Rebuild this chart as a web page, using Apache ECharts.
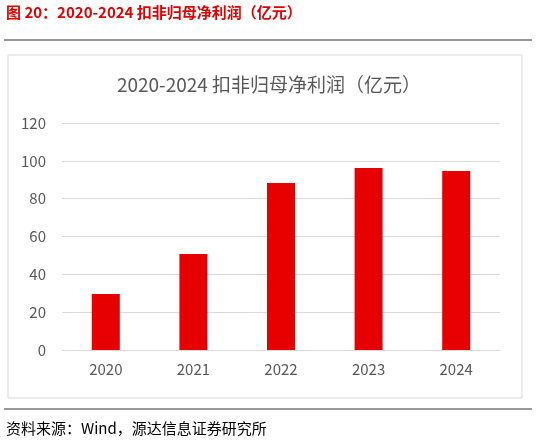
<!DOCTYPE html>
<html>
<head>
<meta charset="utf-8">
<script src="https://cdn.jsdelivr.net/npm/echarts@6/dist/echarts.min.js"></script>
<style>html,body{margin:0;padding:0;background:#fff}#main{width:538px;height:446px}</style>
</head>
<body>
<div id="main"></div>
<script>
const years = ['2020', '2021', '2022', '2023', '2024'];
const profit = [29.6, 50.7, 88.3, 96.2, 94.6];

const myChart = echarts.init(document.getElementById('main'));
const font = '"Noto Sans CJK SC", "Noto Sans", sans-serif';

const option = {
  animation: false,
  textStyle: { fontFamily: font },
  title: {
    text: '2020-2024 扣非归母净利润（亿元）',
    left: 'center',
    top: 70,
    textStyle: { fontSize: 19, fontWeight: 'normal', color: '#595959', fontFamily: font },
  },
  graphic: [
    { type: 'text', left: 6, top: 5, style: { text: '图 20：2020-2024 扣非归母净利润（亿元）', fill: '#e00000', font: 'bold 15px ' + font } },
    { type: 'line', shape: { x1: 4, y1: 40, x2: 532, y2: 40 }, style: { stroke: '#333', lineWidth: 1 } },
    { type: 'rect', shape: { x: 8, y: 55, width: 514, height: 343 }, style: { fill: 'none', stroke: '#d9d9d9', lineWidth: 1 } },
    { type: 'line', shape: { x1: 4, y1: 409, x2: 532, y2: 409 }, style: { stroke: '#333', lineWidth: 1 } },
    { type: 'text', left: 6, top: 421, style: { text: '资料来源：Wind，源达信息证券研究所', fill: '#000', font: '15px ' + font } },
  ],
  grid: { left: 62, right: 38, top: 123, bottom: 96 },
  xAxis: {
    type: 'category',
    data: years,
    axisTick: { show: false },
    axisLine: { lineStyle: { color: '#d9d9d9' } },
    axisLabel: { color: '#595959', fontSize: 15, margin: 12 },
  },
  yAxis: {
    type: 'value',
    min: 0,
    max: 120,
    interval: 20,
    axisLine: { show: false },
    axisTick: { show: false },
    splitLine: { lineStyle: { color: '#d9d9d9' } },
    axisLabel: { color: '#595959', fontSize: 15, margin: 16 },
  },
  series: [{
    type: 'bar',
    data: profit,
    barWidth: 28,
    itemStyle: { color: '#e60000' },
  }],
};
myChart.setOption(option);
</script>
</body>
</html>
